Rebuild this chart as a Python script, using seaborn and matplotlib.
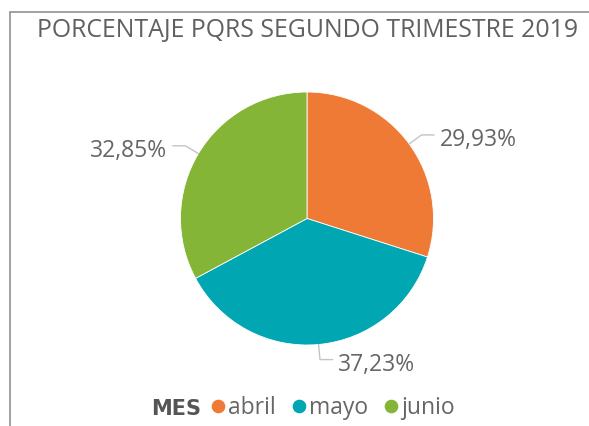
import numpy as np
import matplotlib
matplotlib.use("Agg")
import matplotlib.pyplot as plt
from matplotlib.lines import Line2D
import seaborn as sns

# ---- data ----
title = "PORCENTAJE PQRS SEGUNDO TRIMESTRE 2019"
legend_title = "MES"
months = ["abril", "mayo", "junio"]
percents = [29.93, 37.23, 32.85]
colors = ["#EF7A35", "#00A6B1", "#84B537"]

sns.set_theme(style="white")
plt.rcParams["font.family"] = ["Open Sans", "DejaVu Sans"]

W, H = 589, 426
fig = plt.figure(figsize=(W / 100, H / 100), dpi=100)

# frame lines (top and left)
fig.add_artist(Line2D([10 / W, 10 / W], [0, 1 - 12 / H], color="#9A9A9A", lw=1.3))
fig.add_artist(Line2D([10 / W, 1], [1 - 12 / H, 1 - 12 / H], color="#9A9A9A", lw=1.3))

fig.text(37 / W, 1 - 31 / H, title, ha="left", va="center",
         fontsize=17.9, color="#606060")

cx, cy, r = 307, 218.5, 126.5
ax = fig.add_axes([(cx - r) / W, (H - cy - r) / H, 2 * r / W, 2 * r / H])
wedges, _ = ax.pie(percents, colors=colors, startangle=90, counterclock=False,
                   radius=1, wedgeprops=dict(linewidth=0.6, edgecolor="white"))
ax.set_xlim(-1, 1)
ax.set_ylim(-1, 1)
ax.set_aspect("auto")
ax.axis("off")

for w, p in zip(wedges, percents):
    mid = np.deg2rad((w.theta1 + w.theta2) / 2)
    c, s = np.cos(mid), np.sin(mid)
    sign = 1 if c >= 0 else -1
    x1, y1 = 1.12 * c, 1.12 * s
    x2 = x1 + sign * 0.1
    ax.plot([c * 1.0, x1, x2], [s * 1.0, y1, y1], color="#C4C4C4", lw=1.0,
            clip_on=False)
    ax.text(x2 + sign * 0.045, y1 - 0.04, f"{p:.2f}%".replace(".", ","),
            ha="left" if sign > 0 else "right", va="center",
            fontsize=16.5, color="#666666", clip_on=False)

handles = [Line2D([], [], marker="o", linestyle="", markersize=8.8,
                  markerfacecolor=c, markeredgecolor=c) for c in colors]
leg = fig.legend(handles, months, ncol=3, frameon=False, loc="center",
                 bbox_to_anchor=(331 / W, 1 - 408 / H), fontsize=16.5,
                 handletextpad=0.0, columnspacing=0.55, handlelength=0.9,
                 borderpad=0, labelcolor="#666666")
fig.canvas.draw()
bb = leg.get_window_extent()
fig.text((bb.x0 - 6) / W, 1 - 409 / H, legend_title, ha="right", va="center",
         fontsize=15, fontweight="bold", color="#555555",
         family=["DejaVu Sans"])

fig.savefig("out.png", dpi=100)
